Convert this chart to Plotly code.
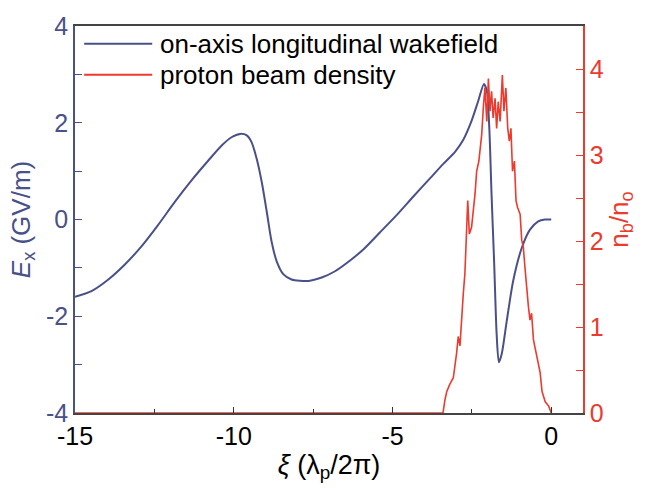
import plotly.graph_objects as go

# on-axis longitudinal wakefield (GV/m) vs xi
xi_wake = [-15.0, -14.48, -13.95, -13.43, -12.90, -12.38, -11.85, -11.33, -10.80, -10.38,
           -10.07, -9.80, -9.59, -9.44, -9.28, -9.12, -8.96, -8.81, -8.65, -8.44,
           -8.18, -7.65, -7.23, -6.81, -6.44, -5.92, -5.40, -4.87, -4.35, -3.82,
           -3.40, -3.03, -2.77, -2.51, -2.30, -2.12, -2.03, -1.95, -1.88, -1.80,
           -1.72, -1.65, -1.56, -1.40, -1.20, -0.93, -0.67, -0.41, -0.20, 0.0]
ex_wake = [-1.60, -1.48, -1.24, -0.93, -0.55, -0.11, 0.37, 0.81, 1.22, 1.53,
           1.70, 1.77, 1.74, 1.60, 1.26, 0.78, 0.16, -0.45, -0.86, -1.13,
           -1.24, -1.27, -1.20, -1.07, -0.90, -0.62, -0.27, 0.09, 0.47, 0.85,
           1.15, 1.40, 1.65, 2.04, 2.45, 2.80, 2.66, 1.87, 0.51, -0.86,
           -2.37, -2.95, -2.78, -2.09, -1.27, -0.59, -0.21, -0.04, 0.0, 0.0]

# proton beam density n_b/n_0 vs xi
xi_beam = [-15.0, -3.41, -3.35, -3.29, -3.20, -3.13, -3.085, -2.98, -2.93, -2.875,
           -2.82, -2.77, -2.72, -2.66, -2.63, -2.58, -2.51, -2.40, -2.35, -2.28,
           -2.19, -2.14, -2.09, -2.03, -1.98, -1.93, -1.88, -1.83, -1.77, -1.72,
           -1.67, -1.61, -1.54, -1.49, -1.43, -1.37, -1.32, -1.27, -1.22, -1.16,
           -1.11, -1.06, -0.98, -0.93, -0.88, -0.83, -0.77, -0.72, -0.67, -0.62,
           -0.56, -0.46, -0.35, -0.29, -0.19, -0.08, -0.01, 0.0]
nb_beam = [0.0, 0.0, 0.15, 0.25, 0.33, 0.37, 0.41, 0.70, 0.89, 0.78,
           1.16, 1.39, 1.62, 2.16, 2.47, 2.08, 2.16, 2.55, 2.81, 2.93,
           3.24, 3.55, 3.78, 3.39, 3.89, 3.51, 3.74, 3.43, 3.66, 3.31,
           3.62, 3.39, 3.93, 3.51, 3.78, 3.31, 3.16, 3.31, 2.81, 2.93,
           2.47, 2.39, 2.31, 2.01, 1.93, 1.70, 1.39, 1.24, 1.08, 1.16,
           0.85, 0.66, 0.47, 0.25, 0.13, 0.08, 0.02, 0.0]

x_ticks = [-15, -10, -5, 0]
x_labels = ["-15", "-10", "-5", "0"]
y_ticks = [-4, -2, 0, 2, 4]
y_labels = ["-4", "-2", "0", "2", "4"]
y2_ticks = [0, 1, 2, 3, 4]
y2_labels = ["0", "1", "2", "3", "4"]

BLUE = "#4a5189"
RED = "#ec3a2e"
FONT = "Liberation Sans, Arial, sans-serif"

fig = go.Figure()
fig.add_trace(go.Scatter(x=xi_beam, y=nb_beam, mode="lines", yaxis="y2",
                         line=dict(color=RED, width=1.6), name="proton beam density",
                         showlegend=False))
fig.add_trace(go.Scatter(x=xi_wake, y=ex_wake, mode="lines", yaxis="y",
                         line=dict(color=BLUE, width=2, shape="spline", smoothing=0.7),
                         name="on-axis longitudinal wakefield", showlegend=False))

# legend drawn as lines + text
legend_items = [("on-axis longitudinal wakefield", BLUE, 0.954),
                ("proton beam density", RED, 0.874)]
for label, col, yy in legend_items:
    fig.add_shape(type="line", xref="paper", yref="paper", x0=0.018, x1=0.152,
                  y0=yy, y1=yy, line=dict(color=col, width=2))
    fig.add_annotation(text=label, xref="paper", yref="paper", x=0.163, y=yy,
                       xanchor="left", yanchor="middle", showarrow=False,
                       font=dict(size=26, color="black", family=FONT))

fig.update_layout(
    width=651, height=489,
    margin=dict(l=75, r=68, t=23, b=76),
    paper_bgcolor="white", plot_bgcolor="white",
    font=dict(family=FONT, size=25),
    xaxis=dict(range=[-15, 1], tickvals=x_ticks, ticktext=x_labels, ticks="inside", ticklen=6,
               tickcolor="#333", showline=True, linecolor="#444", linewidth=1.5,
               mirror=True, showgrid=False, zeroline=False,
               minor=dict(dtick=2.5, tick0=0, ticks="inside", ticklen=4, tickcolor="#333"),
               tickfont=dict(size=25, color="black"),
               title=dict(text="<i>ξ</i> (λ<sub>p</sub>/2π)", font=dict(size=27, color="black"),
                          standoff=6)),
    yaxis=dict(range=[-4, 4], tickvals=y_ticks, ticktext=y_labels, ticks="inside", ticklen=7,
               tickcolor=BLUE, showline=True, linecolor=BLUE, linewidth=1.5,
               showgrid=False, zeroline=False,
               minor=dict(dtick=1, tick0=0, ticks="inside", ticklen=7, tickcolor=BLUE),
               tickfont=dict(size=25, color=BLUE),
               title=dict(text="<i>E</i><sub>x</sub> (GV/m)", font=dict(size=26, color=BLUE),
                          standoff=8)),
    yaxis2=dict(range=[0, 4.5], tickvals=y2_ticks, ticktext=y2_labels, overlaying="y",
                side="right", ticks="inside", ticklen=7, tickcolor=RED, showline=True,
                linecolor=RED, linewidth=1.5, showgrid=False, zeroline=False,
                minor=dict(dtick=0.5, tick0=0, ticks="inside", ticklen=7, tickcolor=RED),
                tickfont=dict(size=25, color=RED),
                title=dict(text="n<sub>b</sub>/n<sub>o</sub>", font=dict(size=26, color=RED),
                           standoff=4)),
)

fig.write_html("out.html")
